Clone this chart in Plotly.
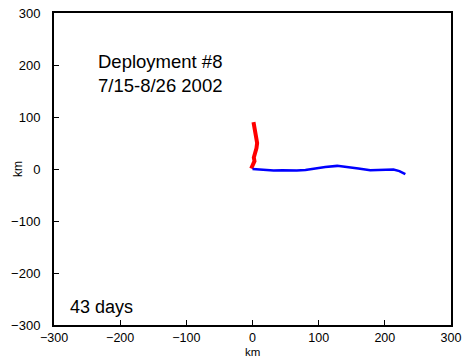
import plotly.graph_objects as go

red_x = [-2, -1, 1, 3, 2, 4, 6, 7, 6, 4, 3, 2, 1.5]
red_y = [1, 5, 10, 15, 22, 30, 40, 50, 58, 66, 74, 82, 90]
blue_x = [0, 10, 20, 32, 45, 55, 67, 80, 95, 110, 128, 145, 160, 178, 195, 213, 222, 231]
blue_y = [0, -1, -2, -3, -2.5, -3, -3, -2, 1, 4, 6, 4, 1, -2.5, -2, -1, -4, -10]

fig = go.Figure()
fig.add_trace(go.Scatter(x=red_x, y=red_y, mode="lines", line=dict(color="red", width=4)))
fig.add_trace(go.Scatter(x=blue_x, y=blue_y, mode="lines", line=dict(color="blue", width=2.5)))

fig.update_layout(
    width=466, height=357, showlegend=False,
    paper_bgcolor="white", plot_bgcolor="white",
    margin=dict(l=54, r=15, t=13, b=32),
    font=dict(family="Liberation Sans, Arial, sans-serif", size=13, color="black"),
)
axis_common = dict(showgrid=False, zeroline=False, showline=True, linecolor="black", linewidth=2,
                   mirror=True, ticks="inside", ticklen=5, tickcolor="black", tickwidth=1,
                   range=[-300, 300], dtick=100, automargin=False)
fig.update_xaxes(**axis_common, ticklabelstandoff=0, tickfont=dict(size=12.5))
fig.update_yaxes(**axis_common, ticklabelstandoff=9, tickfont=dict(size=13))

fig.add_annotation(xref="paper", yref="paper", x=0.5, y=0, yanchor="top", yshift=-19.5,
                   text="km", showarrow=False, font=dict(size=11.5), borderpad=0)
fig.add_annotation(xref="paper", yref="paper", x=0, y=0.5, xanchor="center", xshift=-36,
                   text="km", textangle=-90, showarrow=False, font=dict(size=12))

fig.add_annotation(x=-236, y=183, text="Deployment #8<br>7/15-8/26 2002", showarrow=False,
                   xanchor="left", yanchor="middle", align="left", font=dict(size=18.5))
fig.add_annotation(x=-278.5, y=-265, text="43 days", showarrow=False,
                   xanchor="left", yanchor="middle", font=dict(size=18))

fig.write_html("out.html")
